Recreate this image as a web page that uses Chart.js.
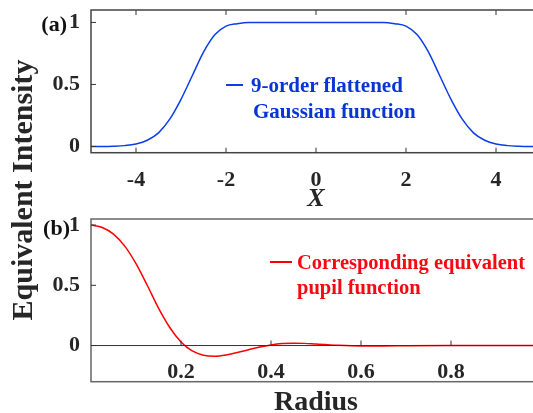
<!DOCTYPE html>
<html>
<head>
<meta charset="utf-8">
<script src="https://cdn.jsdelivr.net/npm/chart.js@4.4.1/dist/chart.umd.min.js"></script>
<style>
  html, body { margin: 0; padding: 0; background: #fff; overflow: hidden; }
  #wrap { position: relative; width: 533px; height: 413px; overflow: hidden; font-family: 'Liberation Serif', 'Times New Roman', serif; font-weight: bold; }
  canvas { position: absolute; left: 0; top: 0; }
  .txt { position: absolute; white-space: nowrap; line-height: 1; }
  .leg { position: absolute; height: 2px; }
</style>
</head>
<body>
<div id="wrap">
  <canvas id="chartA" width="560" height="413"></canvas>
  <canvas id="chartB" width="560" height="413"></canvas>

  <div class="txt" style="left:-128px; top:175px; width:300px; height:30px; line-height:30px; text-align:center; font-size:30px; color:#262626; transform:rotate(-90deg);">Equivalent Intensity</div>

  <div class="txt" style="left:30px; width:37px; text-align:right; top:13px; font-size:22px; color:#111;">(a)</div>
  <div class="txt" style="left:30px; width:40px; text-align:right; top:217px; font-size:22px; color:#111;">(b)</div>

  <div class="leg" style="left:226px; width:17px; top:84px; background:#0b3ee6;"></div>
  <div class="txt" style="left:251px; top:75px; font-size:21px; color:#0a35d6;">9-order flattened</div>
  <div class="txt" style="left:253px; top:101px; font-size:21px; color:#0a35d6;">Gaussian function</div>

  <div class="leg" style="left:270px; width:22px; top:261px; background:#ff0000;"></div>
  <div class="txt" style="left:297px; top:252px; font-size:20.5px; color:#f50a14;">Corresponding equivalent</div>
  <div class="txt" style="left:297px; top:277px; font-size:20.5px; color:#f50a14;">pupil function</div>
</div>

<script>
// (a) 9-order flattened Gaussian
const xA = [-5, -4.75, -4.5, -4.25, -4, -3.75, -3.5, -3.25, -3, -2.75, -2.5, -2.25, -2, -1.75, -1.5, -1, 0,
            1, 1.5, 1.75, 2, 2.25, 2.5, 2.75, 3, 3.25, 3.5, 3.75, 4, 4.25, 4.5, 4.75, 5];
const yA = [0, 0, 0.002, 0.007, 0.02, 0.05, 0.11, 0.22, 0.38, 0.57, 0.76, 0.9, 0.97, 0.99, 1, 1, 1,
            1, 1, 0.99, 0.97, 0.9, 0.76, 0.57, 0.38, 0.22, 0.11, 0.05, 0.02, 0.007, 0.002, 0, 0];
const xTicksA = [-4, -2, 0, 2, 4];
const yTicksA = [0, 0.5, 1];

// (b) corresponding equivalent pupil function
const rB = [0, 0.025, 0.05, 0.075, 0.1, 0.125, 0.15, 0.175, 0.2, 0.225, 0.25, 0.275, 0.3, 0.325, 0.35,
            0.375, 0.4, 0.425, 0.45, 0.475, 0.5, 0.55, 0.6, 0.65, 0.7, 0.8, 0.9, 1];
const yB = [1, 0.98, 0.925, 0.825, 0.68, 0.5, 0.31, 0.15, 0.03, -0.045, -0.08, -0.088, -0.078, -0.058, -0.035,
            -0.012, 0.005, 0.016, 0.02, 0.018, 0.012, 0.002, -0.003, -0.003, -0.001, 0.001, 0, 0];
const xTicksB = [0.2, 0.4, 0.6, 0.8];
const yTicksB = [0, 0.5, 1];

const tickFont = { family: "'Liberation Serif', serif", size: 22, weight: 'bold' };
const tickColor = '#262626';

// box + inward tick marks, MATLAB style
function framePlugin(opts) {
  return {
    id: 'frame',
    afterDraw(chart) {
      const { ctx, chartArea: a, scales } = chart;
      const sx = scales.x, sy = scales.y;
      const len = 5;
      ctx.save();
      ctx.strokeStyle = opts.frameColor;
      ctx.lineWidth = 1.5;
      ctx.strokeRect(a.left, a.top, a.right - a.left, a.bottom - a.top);
      ctx.strokeStyle = '#333';
      ctx.lineWidth = 1;
      ctx.beginPath();
      if (opts.zeroLine) {
        const y0 = sy.getPixelForValue(0);
        ctx.moveTo(a.left, y0);
        ctx.lineTo(a.right, y0);
        sx.ticks.forEach(t => {
          const px = sx.getPixelForValue(t.value);
          ctx.moveTo(px, y0);
          ctx.lineTo(px, y0 - len);
        });
      } else {
        sx.ticks.forEach(t => {
          const px = sx.getPixelForValue(t.value);
          ctx.moveTo(px, a.bottom);
          ctx.lineTo(px, a.bottom - len);
          ctx.moveTo(px, a.top);
          ctx.lineTo(px, a.top + len);
        });
      }
      sy.ticks.forEach(t => {
        const py = sy.getPixelForValue(t.value);
        ctx.moveTo(a.left, py);
        ctx.lineTo(a.left + len, py);
      });
      ctx.stroke();
      ctx.restore();
    }
  };
}

function makeChart(id, xs, ys, color, cfg) {
  return new Chart(document.getElementById(id).getContext('2d'), {
    type: 'line',
    data: {
      datasets: [{
        data: xs.map((x, i) => ({ x: x, y: ys[i] })),
        borderColor: color,
        borderWidth: 1.5,
        pointRadius: 0,
        fill: false,
        cubicInterpolationMode: 'monotone'
      }]
    },
    options: {
      responsive: false,
      animation: false,
      layout: { padding: cfg.padding },
      plugins: { legend: { display: false }, tooltip: { enabled: false } },
      scales: {
        x: {
          type: 'linear',
          min: cfg.xMin,
          max: cfg.xMax,
          afterBuildTicks: s => { s.ticks = cfg.xTicks.map(v => ({ value: v })); },
          afterFit: s => { s.height = cfg.xHeight; s.paddingLeft = 0; s.paddingRight = 0; },
          grid: { display: false, drawTicks: false },
          border: { display: false },
          ticks: { font: tickFont, color: tickColor, padding: cfg.xPad, mirror: cfg.xMirror,
                   maxRotation: 0, autoSkip: false, callback: v => String(v) },
          title: { display: true, text: cfg.xTitle, color: '#262626', padding: { top: 0, bottom: cfg.titlePad },
                   font: { family: "'Liberation Serif', serif", size: cfg.titleSize, weight: 'bold',
                           style: cfg.titleStyle, lineHeight: 1 } }
        },
        y: {
          min: cfg.yMin,
          max: cfg.yMax,
          afterBuildTicks: s => { s.ticks = cfg.yTicks.map(v => ({ value: v })); },
          afterFit: s => { s.width = 91; s.paddingTop = 0; s.paddingBottom = 0; },
          grid: { display: false, drawTicks: false },
          border: { display: false },
          ticks: { font: tickFont, color: tickColor, padding: 11, callback: v => String(v) }
        }
      }
    },
    plugins: [framePlugin(cfg)]
  });
}

makeChart('chartA', xA, yA, '#0b3ee6', {
  padding: { top: 10, right: 19, bottom: 198, left: 0 },
  xMin: -5, xMax: 5, yMin: -0.05, yMax: 1.1,
  xTicks: xTicksA, yTicks: yTicksA,
  xHeight: 62.3, xPad: 14, xMirror: false, xTitle: 'X', titleSize: 26, titleStyle: 'italic', titlePad: 3,
  frameColor: '#444', zeroLine: false
});

makeChart('chartB', rB, yB, '#ff0000', {
  padding: { top: 219, right: 19, bottom: 0, left: 0 },
  xMin: 0, xMax: 1, yMin: -0.3, yMax: 1.05,
  xTicks: xTicksB, yTicks: yTicksB,
  xHeight: 31.3, xPad: -3.5, xMirror: true, xTitle: 'Radius', titleSize: 28, titleStyle: 'normal', titlePad: -4,
  frameColor: '#666', zeroLine: true
});
</script>
</body>
</html>
